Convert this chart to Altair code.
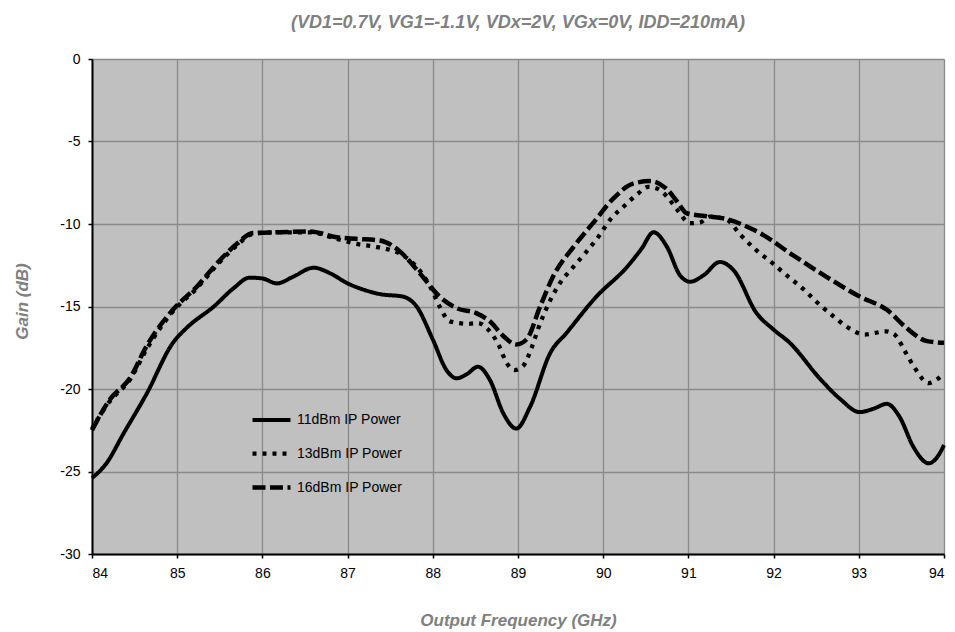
import altair as alt
import pandas as pd

series_names = ["11dBm IP Power", "13dBm IP Power", "16dBm IP Power"]

freq_11 = [84.0, 84.17, 84.37, 84.64, 84.95, 85.11, 85.43, 85.66, 85.85, 86.0, 86.17, 86.36,
           86.6, 86.8, 87.0, 87.2, 87.38, 87.65, 87.81, 88.0, 88.16, 88.28, 88.4, 88.53, 88.67,
           88.83, 88.98, 89.14, 89.38, 89.57, 89.92, 90.28, 90.45, 90.59, 90.75, 90.9, 91.02,
           91.18, 91.37, 91.53, 91.8, 92.0, 92.19, 92.54, 92.78, 93.01, 93.17, 93.33, 93.48,
           93.64, 93.82, 93.91, 94.0]
gain_11 = [-25.4, -24.5, -22.7, -20.3, -17.2, -16.3, -15.0, -13.9, -13.25, -13.3, -13.6, -13.2,
           -12.65, -13.0, -13.6, -14.0, -14.25, -14.4, -15.0, -17.0, -18.85, -19.35, -19.1, -18.65,
           -19.45, -21.5, -22.4, -21.1, -17.8, -16.6, -14.4, -12.6, -11.5, -10.5, -11.4, -13.1,
           -13.5, -13.1, -12.3, -12.8, -15.4, -16.4, -17.2, -19.35, -20.6, -21.4, -21.2, -20.9,
           -21.7, -23.5, -24.5, -24.2, -23.4]

freq_13 = [84.0, 84.2, 84.45, 84.64, 84.95, 85.23, 85.5, 85.7, 85.89, 86.2, 86.56, 86.87, 87.1,
           87.35, 87.65, 87.97, 88.08, 88.2, 88.42, 88.53, 88.63, 88.77, 88.87, 88.96, 89.06,
           89.16, 89.24, 89.38, 89.49, 89.65, 89.8, 89.94, 90.08, 90.26, 90.41, 90.53, 90.63,
           90.75, 90.87, 91.02, 91.14, 91.25, 91.45, 91.61, 91.8, 91.97, 92.15, 92.35, 92.5,
           92.68, 92.88, 93.07, 93.19, 93.31, 93.42, 93.54, 93.66, 93.82, 93.91, 94.0]
gain_13 = [-22.4, -20.8, -19.4, -17.6, -15.3, -13.9, -12.3, -11.3, -10.6, -10.5, -10.5, -10.9,
           -11.2, -11.4, -11.9, -13.8, -15.0, -15.9, -16.05, -16.0, -16.3, -17.3, -18.45, -18.85,
           -18.6, -17.5, -16.3, -14.6, -13.6, -12.6, -11.7, -10.8, -9.75, -8.85, -8.15, -7.75,
           -7.85, -8.35, -9.15, -9.95, -9.9, -9.55, -9.75, -10.65, -11.6, -12.3, -13.1, -13.95,
           -14.7, -15.5, -16.3, -16.7, -16.6, -16.5, -16.7, -17.7, -18.75, -19.65, -19.45, -19.05]

freq_16 = [84.0, 84.2, 84.45, 84.64, 84.95, 85.23, 85.5, 85.7, 85.89, 86.2, 86.56, 86.87, 87.1,
           87.38, 87.6, 87.85, 88.08, 88.28, 88.51, 88.67, 88.83, 88.98, 89.1, 89.26, 89.41,
           89.65, 89.88, 90.12, 90.35, 90.55, 90.75, 90.87, 90.98, 91.25, 91.45, 91.64, 91.84,
           92.23, 92.62, 93.01, 93.33, 93.56, 93.8, 94.0]
gain_16 = [-22.5, -20.7, -19.3, -17.4, -15.2, -13.8, -12.2, -11.2, -10.55, -10.5, -10.45, -10.8,
           -10.9, -11.0, -11.6, -13.0, -14.4, -15.1, -15.4, -15.9, -16.8, -17.3, -17.0, -15.0,
           -13.2, -11.4, -9.95, -8.45, -7.55, -7.4, -7.9, -8.65, -9.35, -9.55, -9.7, -10.05,
           -10.55, -11.9, -13.2, -14.4, -15.2, -16.3, -17.1, -17.2]

x_ticks = [84, 85, 86, 87, 88, 89, 90, 91, 92, 93, 94]
y_ticks = [-30, -25, -20, -15, -10, -5, 0]

title_text = "(VD1=0.7V, VG1=-1.1V, VDx=2V, VGx=0V, IDD=210mA)"
x_title = "Output Frequency (GHz)"
y_title = "Gain (dB)"

rows = []
for name, fr, gn in zip(series_names, [freq_11, freq_13, freq_16], [gain_11, gain_13, gain_16]):
    for f, g in zip(fr, gn):
        rows.append({"series": name, "freq": f, "gain": g})
df = pd.DataFrame(rows)

FONT = "Liberation Sans"
GREY = "#808080"

chart = alt.Chart(df).mark_line(
    interpolate="monotone", color="black", strokeCap="butt", strokeJoin="round"
).encode(
    x=alt.X("freq:Q", scale=alt.Scale(domain=[84, 94], nice=False, zero=False),
            axis=alt.Axis(values=x_ticks, title=x_title, labelExpr="'' + datum.value",
                          titleX=426, titleY=71, titleAlign="center",
                          titleBaseline="alphabetic", labelPadding=8)),
    y=alt.Y("gain:Q", scale=alt.Scale(domain=[-30, 0], nice=False, zero=False),
            axis=alt.Axis(values=y_ticks, title=y_title, labelExpr="'' + datum.value",
                          titleX=-65, titleY=242, titleAlign="center", titleAngle=270,
                          titleBaseline="alphabetic", labelPadding=8)),
    strokeDash=alt.StrokeDash(
        "series:N",
        scale=alt.Scale(domain=series_names, range=[[1, 0], [4, 6], [13, 4.5]]),
        legend=alt.Legend(title=None, orient="none", legendX=158, legendY=340,
                          symbolType="stroke", symbolSize=1444, symbolStrokeWidth=4.5,
                          symbolStrokeColor="black", labelFont=FONT, labelFontSize=14,
                          labelColor="black", labelOffset=4, rowPadding=4, padding=0),
    ),
    strokeWidth=alt.StrokeWidth(
        "series:N",
        scale=alt.Scale(domain=series_names, range=[4, 4.5, 4.5]),
        legend=None,
    ),
).properties(
    width=852,
    height=495,
    background="white",
    autosize=alt.AutoSizeParams(type="none"),
    padding={"left": 92, "top": 59, "right": 11, "bottom": 78},
    title=alt.TitleParams(text=title_text, font=FONT, fontSize=18, fontStyle="italic",
                          fontWeight="bold", color=GREY, anchor="middle", offset=6,
                          baseline="alphabetic"),
).configure_view(
    fill="#c0c0c0", strokeWidth=0
).configure_axis(
    domainColor="black", domainWidth=2, tickColor="black", tickWidth=1.5, tickSize=4,
    labelFont=FONT, labelFontSize=14, labelColor="black",
    gridColor="#8a8a8a", gridWidth=1.3,
    titleFont=FONT, titleFontSize=17, titleFontStyle="italic", titleFontWeight="bold",
    titleColor=GREY,
)

chart.save("out.html", embed_options={"renderer": "svg", "actions": False})
